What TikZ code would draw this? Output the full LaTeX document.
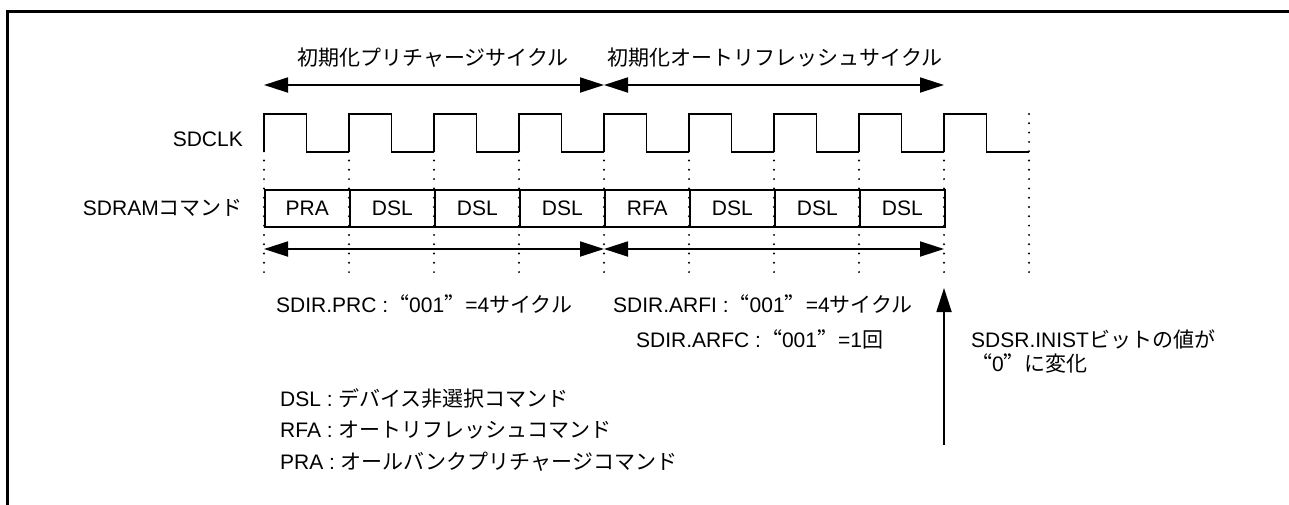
\documentclass[tikz,border=0pt]{standalone}
\usepackage{fontspec}
\setmainfont{Liberation Sans}
\newfontfamily\jp{Noto Sans CJK JP}
\newfontfamily\jpq[RawFeature=+fwid]{Noto Sans CJK JP}
\newcommand\jlq{{\jpq “}}
\newcommand\jrq{{\jpq ”}}
\usetikzlibrary{arrows.meta,calc}
\begin{document}
\begin{tikzpicture}[x=1pt,y=-1pt,
  font=\fontsize{21}{25}\selectfont,
  sig/.style={line width=1.6pt, line join=miter},
  dotline/.style={line width=2.2pt, dash pattern=on 0pt off 9.3pt, line cap=round},
  span/.style={line width=1.8pt, {Triangle[length=24pt,width=15pt]}-{Triangle[length=24pt,width=15pt]}},
  lbl/.style={inner sep=0pt},
  cmd/.style={inner sep=0pt}]
\useasboundingbox (0,0) rectangle (1289,504);
\begin{scope}
\clip (0,0) rectangle (1289,504);
\draw[line width=3pt] (7,520) -- (7,11) -- (1300,11);
\end{scope}
% time marks
\foreach \i in {0,...,9}{
  \coordinate (t\i) at ({264+85*\i},114);
  \coordinate (b\i) at ({264+85*\i},278);
  \draw[dotline] (t\i) -- (b\i);
}
% clock
\foreach \i in {0,...,8}{
  \draw[sig] ($(t\i)+(0,38)$) -- (t\i) -- ++(42.5,0) -- ++(0,38) -- ++(42.5,0);
}
% command boxes
\foreach \i/\txt in {0/PRA,1/DSL,2/DSL,3/DSL,4/RFA,5/DSL,6/DSL,7/DSL}{
  \node[cmd, draw, sig, minimum width=85pt, minimum height=37pt, anchor=north west] (c\i) at ({264+85*\i},189) {\txt};
}
% labels left
\node[lbl, anchor=east] (clk) at (243,139) {SDCLK};
\node[lbl, anchor=east] (sdcmd) at (243,208) {SDRAM{\jp コマンド}};
% top spans
\coordinate (a0) at (264,85);
\coordinate (a4) at (604,85);
\coordinate (a8) at (944,85);
\draw[span] (a4) -- (a0);
\draw[span] (a4) -- (a8);
\node[lbl] (ttl1) at (433,58) {\jp 初期化プリチャージサイクル};
\node[lbl] (ttl2) at (775,58) {\jp 初期化オートリフレッシュサイクル};
% bottom spans
\coordinate (d0) at (264,249);
\coordinate (d4) at (604,249);
\coordinate (d8) at (944,249);
\draw[span] (d0) -- (d4);
\draw[span] (d4) -- (d8);
\node[lbl, anchor=west] (prc) at (276,304) {SDIR.PRC :\jlq 001\jrq=4{\jp サイクル}};
\node[lbl, anchor=west] (arfi) at (613,304) {SDIR.ARFI :\jlq 001\jrq=4{\jp サイクル}};
\node[lbl, anchor=west] (arfc) at (636,339) {SDIR.ARFC :\jlq 001\jrq=1{\jp 回}};
% status arrow
\coordinate (up0) at (944,445);
\coordinate (up1) at (944,288);
\draw[line width=1.8pt, -{Triangle[length=24pt,width=15pt]}] (up0) -- (up1);
\node[lbl, anchor=west] (st1) at (971,339) {SDSR.INIST{\jp ビットの値が}};
\node[lbl, anchor=west] (st2) at (971,363) {\jlq 0\jrq{\jp に変化}};
% legend
\node[lbl, anchor=west] (lg1) at (280,398) {DSL : {\jp デバイス非選択コマンド}};
\node[lbl, anchor=west] (lg2) at (280,430) {RFA : {\jp オートリフレッシュコマンド}};
\node[lbl, anchor=west] (lg3) at (280,462) {PRA : {\jp オールバンクプリチャージコマンド}};
\end{tikzpicture}
\end{document}
